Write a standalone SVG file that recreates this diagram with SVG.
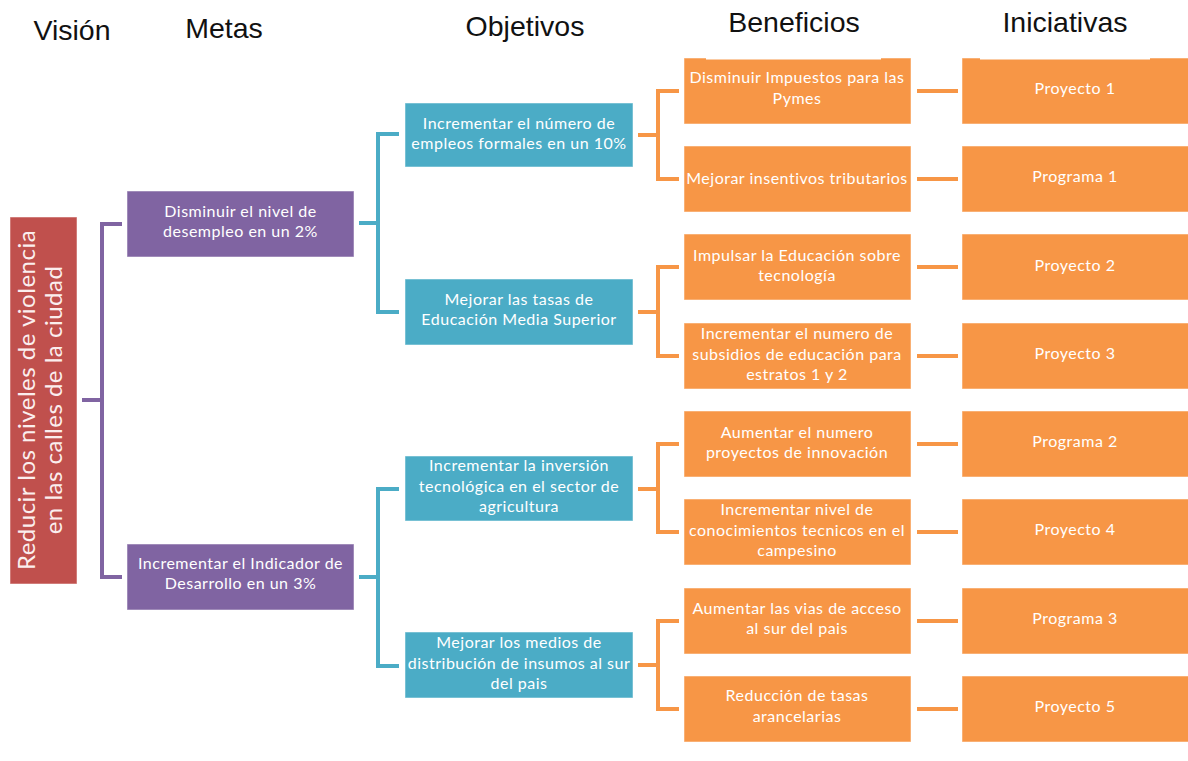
<svg xmlns="http://www.w3.org/2000/svg" width="1188" height="761" viewBox="0 0 1188 761">
<style>
.hdr{font-family:"Liberation Sans",Arial,sans-serif;font-size:28.5px;fill:#111;text-anchor:middle}
.t{font-family:Lato,"Open Sans",sans-serif;font-size:16px;letter-spacing:0.5px;fill:#fff;text-anchor:middle}
.vis{font-family:Lato,"Open Sans",sans-serif;font-size:24px;letter-spacing:0.5px;fill:#fbeeee;text-anchor:middle}
.red{fill:#C0504D;stroke:#fff;stroke-opacity:.5;stroke-width:1}
.pur{fill:#8064A2;stroke:#fff;stroke-opacity:.5;stroke-width:1}
.teal{fill:#4BACC6;stroke:#fff;stroke-opacity:.5;stroke-width:1}
.org{fill:#F79646;stroke:#fff;stroke-opacity:.5;stroke-width:1}
.cp{fill:none;stroke:#8064A2;stroke-width:4}
.ct{fill:none;stroke:#4BACC6;stroke-width:4}
.co{fill:none;stroke:#F79646;stroke-width:4}
</style>
<rect width="1188" height="761" fill="#fff"/>
<g id="headers">
<text class="hdr" x="72" y="40">Visión</text>
<text class="hdr" x="224" y="38">Metas</text>
<text class="hdr" x="525" y="36">Objetivos</text>
<text class="hdr" x="794" y="32">Beneficios</text>
<text class="hdr" x="1065" y="32">Iniciativas</text>
</g>
<g id="connectors">
<path class="cp" d="M82,400H102M122,224H102V577H122"/>
<path class="ct" d="M359,223H378M399,134H378V312H399"/>
<path class="ct" d="M359,577H378M399,489H378V666H399"/>
<path class="co" d="M638,135H658M679,91H658V179H679"/>
<path class="co" d="M638,312H658M679,267H658V356H679"/>
<path class="co" d="M638,489H658M679,444H658V532H679"/>
<path class="co" d="M638,665H658M679,621H658V709H679"/>
<path class="co" d="M917,91H958M917,179H958M917,267H958M917,356H958M917,444H958M917,532H958M917,621H958M917,709H958"/>
</g>
<g id="vision">
<rect class="red" x="10" y="217" width="67" height="367"/>
<text class="vis" transform="translate(35,400) rotate(-90)">Reducir los niveles de violencia<tspan x="0" dy="27">en las calles de la ciudad</tspan></text>
</g>
<g id="meta1">
<rect class="pur" x="127" y="191" width="227" height="66"/>
<text class="t" x="240.5" y="217">Disminuir el nivel de<tspan x="240.5" dy="20">desempleo en un 2%</tspan></text>
</g>
<g id="meta2">
<rect class="pur" x="127" y="544" width="227" height="66"/>
<text class="t" x="240.5" y="569">Incrementar el Indicador de<tspan x="240.5" dy="20">Desarrollo en un 3%</tspan></text>
</g>
<g id="obj1">
<rect class="teal" x="405" y="103" width="228" height="64"/>
<text class="t" x="519" y="129">Incrementar el número de<tspan x="519" dy="20">empleos formales en un 10%</tspan></text>
</g>
<g id="obj2">
<rect class="teal" x="405" y="279" width="228" height="66"/>
<text class="t" x="519" y="305">Mejorar las tasas de<tspan x="519" dy="20">Educación Media Superior</tspan></text>
</g>
<g id="obj3">
<rect class="teal" x="405" y="456" width="228" height="65"/>
<text class="t" x="519" y="471">Incrementar la inversión<tspan x="519" dy="20.5">tecnológica en el sector de</tspan><tspan x="519" dy="20.5">agricultura</tspan></text>
</g>
<g id="obj4">
<rect class="teal" x="405" y="632" width="228" height="66"/>
<text class="t" x="519" y="648">Mejorar los medios de<tspan x="519" dy="20.5">distribución de insumos al sur</tspan><tspan x="519" dy="20.5">del pais</tspan></text>
</g>
<g id="ben1">
<rect class="org" x="684" y="58" width="227" height="66"/>
<rect x="706" y="57.5" width="175" height="2" fill="#fff"/>
<text class="t" x="797" y="83">Disminuir Impuestos para las<tspan x="797" dy="21">Pymes</tspan></text>
</g>
<g id="ben2">
<rect class="org" x="684" y="146" width="227" height="66"/>
<text class="t" x="797" y="184">Mejorar insentivos tributarios</text>
</g>
<g id="ben3">
<rect class="org" x="684" y="234" width="227" height="66"/>
<text class="t" x="797" y="261">Impulsar la Educación sobre<tspan x="797" dy="20">tecnología</tspan></text>
</g>
<g id="ben4">
<rect class="org" x="684" y="323" width="227" height="66"/>
<text class="t" x="797" y="339">Incrementar el numero de<tspan x="797" dy="20.5">subsidios de educación para</tspan><tspan x="797" dy="20.5">estratos 1 y 2</tspan></text>
</g>
<g id="ben5">
<rect class="org" x="684" y="411" width="227" height="66"/>
<text class="t" x="797" y="438">Aumentar el numero<tspan x="797" dy="20">proyectos de innovación</tspan></text>
</g>
<g id="ben6">
<rect class="org" x="684" y="499" width="227" height="66"/>
<text class="t" x="797" y="515">Incrementar nivel de<tspan x="797" dy="20.5">conocimientos tecnicos en el</tspan><tspan x="797" dy="20.5">campesino</tspan></text>
</g>
<g id="ben7">
<rect class="org" x="684" y="588" width="227" height="66"/>
<text class="t" x="797" y="614">Aumentar las vias de acceso<tspan x="797" dy="20">al sur del pais</tspan></text>
</g>
<g id="ben8">
<rect class="org" x="684" y="676" width="227" height="66"/>
<text class="t" x="797" y="701">Reducción de tasas<tspan x="797" dy="21">arancelarias</tspan></text>
</g>
<g id="ini1">
<rect class="org" x="962" y="58" width="230" height="66"/>
<rect x="980" y="57.5" width="170" height="2" fill="#fff"/>
<text class="t" x="1075" y="94">Proyecto 1</text>
</g>
<g id="ini2">
<rect class="org" x="962" y="146" width="230" height="66"/>
<text class="t" x="1075" y="182">Programa 1</text>
</g>
<g id="ini3">
<rect class="org" x="962" y="234" width="230" height="66"/>
<text class="t" x="1075" y="271">Proyecto 2</text>
</g>
<g id="ini4">
<rect class="org" x="962" y="323" width="230" height="66"/>
<text class="t" x="1075" y="359">Proyecto 3</text>
</g>
<g id="ini5">
<rect class="org" x="962" y="411" width="230" height="66"/>
<text class="t" x="1075" y="447">Programa 2</text>
</g>
<g id="ini6">
<rect class="org" x="962" y="499" width="230" height="66"/>
<text class="t" x="1075" y="535">Proyecto 4</text>
</g>
<g id="ini7">
<rect class="org" x="962" y="588" width="230" height="66"/>
<text class="t" x="1075" y="624">Programa 3</text>
</g>
<g id="ini8">
<rect class="org" x="962" y="676" width="230" height="66"/>
<text class="t" x="1075" y="712">Proyecto 5</text>
</g>
</svg>
